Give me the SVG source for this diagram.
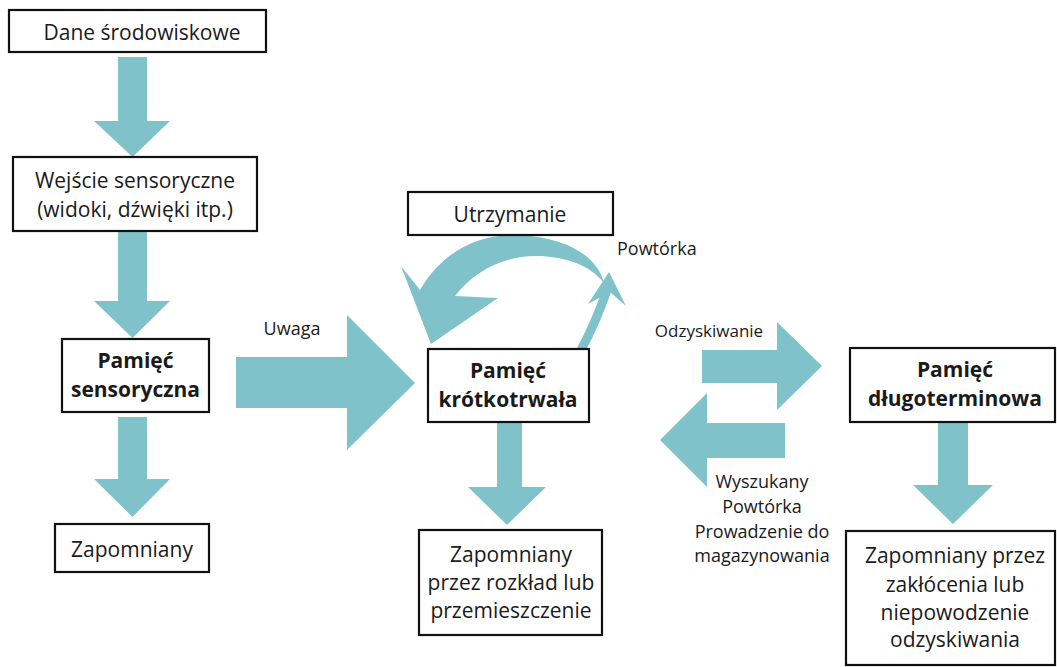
<svg xmlns="http://www.w3.org/2000/svg" width="1057" height="667" viewBox="0 0 1057 667">
<style>
.box{fill:#fff;stroke:#111;stroke-width:2.2}
.t{font-family:"Open Sans","Noto Sans","Liberation Sans",sans-serif;font-size:21px;fill:#1a1a1a;text-anchor:middle}
.b{font-weight:bold}
.l{font-family:"Open Sans","Noto Sans","Liberation Sans",sans-serif;font-size:18px;fill:#1a1a1a;text-anchor:middle}
.a{fill:#80c2c9}
</style>
<rect width="1057" height="667" fill="#fff"/>
<g id="connectors">
<polygon class="a" points="118,57 147,57 147,121 170,121 132.5,157 94,121 118,121"/>
<polygon class="a" points="118,231 147,231 147,301 170,301 132.5,338 94,301 118,301"/>
<polygon class="a" points="118,417 147,417 147,479 170,479 132.5,517 94,479 118,479"/>
<polygon class="a" points="236,357 347,357 347,315 415,383 347,450 347,408 236,408"/>
<polygon class="a" points="497,423 522,423 522,487 546,487 507,525 468,487 497,487"/>
<polygon class="a" points="702,350 777,350 777,322 822,366 777,410 777,383 702,383"/>
<polygon class="a" points="785,423 785,458 707,458 707,487 660,440 707,393 707,423"/>
<polygon class="a" points="938,423 968,423 968,485 993,485 953,524 913,485 938,485"/>
<path class="a" d="M604,283 C598,258 570,238 520,235 C475,233 440,255 420,290 L401,266 L431,344 L498,298 L455,296 C475,270 505,256 535,256 C565,256 590,265 604,283 Z"/>
<path d="M580,352 Q596,322 607,290" fill="none" stroke="#80c2c9" stroke-width="9"/>
<polygon class="a" points="588,304 609,272 626,306 610,292"/>
<text class="l" x="292" y="335">Uwaga</text>
<text class="l" x="617" y="255" style="text-anchor:start">Powtórka</text>
<text class="l" x="709" y="337" style="font-size:17px">Odzyskiwanie</text>
<text class="l" x="762" y="488">Wyszukany</text>
<text class="l" x="762" y="513">Powtórka</text>
<text class="l" x="762" y="538">Prowadzenie do</text>
<text class="l" x="762" y="562">magazynowania</text>
</g>
<g id="n1"><rect class="box" x="9" y="10" width="257" height="42"/><text class="t" x="142" y="40">Dane środowiskowe</text></g>
<g id="n2"><rect class="box" x="13" y="157" width="244" height="74"/><text class="t" x="135" y="188">Wejście sensoryczne</text><text class="t" x="135" y="217">(widoki, dźwięki itp.)</text></g>
<g id="n3"><rect class="box" x="62" y="339" width="147" height="73"/><text class="t b" x="135.5" y="368">Pamięć</text><text class="t b" x="135.5" y="397">sensoryczna</text></g>
<g id="n4"><rect class="box" x="55" y="524" width="154" height="48"/><text class="t" x="132" y="557">Zapomniany</text></g>
<g id="n5"><rect class="box" x="408" y="192" width="205" height="43"/><text class="t" x="510" y="222">Utrzymanie</text></g>
<g id="n6"><rect class="box" x="428" y="349" width="161" height="73"/><text class="t b" x="508" y="378">Pamięć</text><text class="t b" x="508" y="407">krótkotrwała</text></g>
<g id="n7"><rect class="box" x="419" y="530" width="183" height="105"/><text class="t" x="511" y="562">Zapomniany</text><text class="t" x="511" y="590">przez rozkład lub</text><text class="t" x="511" y="618">przemieszczenie</text></g>
<g id="n8"><rect class="box" x="850" y="348" width="205" height="74"/><text class="t b" x="955" y="377">Pamięć</text><text class="t b" x="955" y="406">długoterminowa</text></g>
<g id="n9"><rect class="box" x="846" y="531" width="209" height="134"/><text class="t" x="955" y="563">Zapomniany przez</text><text class="t" x="955" y="592">zakłócenia lub</text><text class="t" x="955" y="620">niepowodzenie</text><text class="t" x="955" y="647">odzyskiwania</text></g>
</svg>
